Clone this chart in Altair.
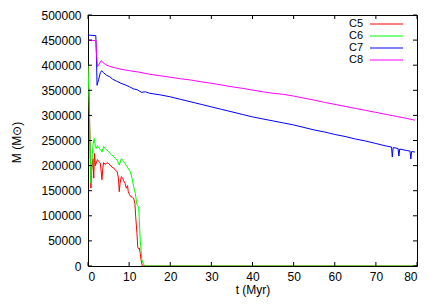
import altair as alt
import pandas as pd

series_names = ["C5", "C6", "C7", "C8"]
series_colors = ["#ff0000", "#00ff00", "#0000ff", "#ff00ff"]

t_c5 = [0, 0.3, 0.7, 0.9, 1.2, 1.4, 1.6, 1.8, 2.0, 2.3, 2.6, 3.0, 3.4, 3.6, 3.8, 4.2, 4.6, 5.0,
        5.4, 5.8, 6.3, 6.7, 7.1, 7.4, 7.6, 7.8, 8.1, 8.4, 8.6, 9.0, 9.3, 9.6, 9.8, 10.1, 10.4,
        10.8, 11.1, 11.4, 11.6, 11.9, 12.1, 12.3, 12.5, 12.7, 12.9, 13.2, 80]
m_c5 = [400000, 330000, 155000, 190000, 214000, 175000, 224000, 200000, 205000, 212000, 208000,
        205000, 172000, 195000, 206000, 202000, 206000, 204000, 201000, 197000, 195000, 190000,
        188000, 175000, 148000, 165000, 178000, 176000, 171000, 165000, 155000, 160000, 148000,
        142000, 138000, 137000, 135000, 125000, 98000, 65000, 38000, 34000, 36000, 25000, 12000, 0, 0]

t_c6 = [0, 0.3, 0.7, 1.0, 1.2, 1.5, 1.8, 2.0, 2.3, 2.6, 3.0, 3.4, 3.8, 4.2, 4.6, 5.0, 5.4, 5.8,
        6.3, 6.7, 7.1, 7.6, 8.1, 8.5, 9.0, 9.5, 10.0, 10.3, 10.7, 11.1, 11.5, 11.9, 12.3, 12.5,
        12.7, 13.1, 13.6, 14.0, 80]
m_c6 = [400000, 320000, 165000, 215000, 241000, 254000, 238000, 234000, 240000, 236000, 232000,
        227000, 238000, 234000, 231000, 228000, 224000, 221000, 218000, 214000, 211000, 201000,
        214000, 210000, 204000, 198000, 191000, 188000, 175000, 158000, 145000, 122000, 118000,
        90000, 52000, 12000, 2000, 0, 0]

t_c7 = [0, 1.9, 2.05, 2.2, 2.6, 3.0, 3.3, 3.8, 4.5, 5.3, 6.0, 7.0, 8.0, 9.0, 10.1, 11.0, 12.0,
        13.0, 14.0, 15.0, 17.5, 20, 22.5, 25, 27.5, 30, 32.5, 35, 37.5, 40, 42.5, 45, 47.5, 50,
        52.5, 55, 57.5, 60, 62.5, 65, 67.5, 70, 72.5, 73.8, 74.0, 74.2, 75.4, 75.6, 75.8, 77.5,
        78.3, 78.5, 78.7, 79.5]
m_c7 = [460000, 459000, 420000, 360000, 372000, 385000, 389000, 385000, 380000, 377000, 372000,
        368000, 364000, 361000, 357000, 353000, 351000, 346000, 347000, 344000, 341000, 337000,
        332000, 327000, 322000, 317000, 312000, 307000, 302000, 297000, 293000, 289000, 285000,
        281000, 276000, 271000, 267000, 262000, 258000, 253000, 249000, 244000, 239000, 237000,
        217000, 236000, 234000, 219000, 233000, 230000, 229000, 213000, 228000, 227000]

t_c8 = [0, 1.9, 2.1, 2.3, 2.7, 3.2, 3.7, 4.3, 5.2, 6.5, 8, 10.1, 12.5, 15, 17.5, 20, 22.5, 25,
        27.5, 30, 32.5, 35, 37.5, 40, 42.5, 45, 47.5, 50, 52.5, 55, 57.5, 60, 62.5, 65, 67.5, 70,
        72.5, 75, 77.5, 79.5]
m_c8 = [450000, 449000, 420000, 397000, 402000, 409000, 405000, 401000, 398000, 395000, 392000,
        389000, 386000, 382000, 379000, 376000, 373000, 370500, 367000, 364000, 360500, 357000,
        354000, 350500, 347000, 344000, 342000, 338500, 334500, 330500, 326000, 322000, 318000,
        314000, 310000, 306000, 302000, 298000, 294000, 290500]

x_ticks = [0, 10, 20, 30, 40, 50, 60, 70, 80]
y_ticks = [0, 50000, 100000, 150000, 200000, 250000, 300000, 350000, 400000, 450000, 500000]

FONT = "Liberation Sans"
W, H = 329, 251
TL = 4  # inward tick length

rows = []
for name, ts, ms in zip(series_names, [t_c5, t_c6, t_c7, t_c8], [m_c5, m_c6, m_c7, m_c8]):
    for t, m in zip(ts, ms):
        rows.append({"series": name, "t": t, "M": m})
df = pd.DataFrame(rows)

xs = alt.Scale(domain=[0, 80], nice=False, zero=False)
ys = alt.Scale(domain=[0, 500000], nice=False)
cs = alt.Scale(domain=series_names, range=series_colors)

x_axis = alt.Axis(values=x_ticks, format="d", title="t (Myr)", ticks=False, domain=False,
                  grid=False, labelPadding=5, titlePadding=2)
y_axis = alt.Axis(values=y_ticks, format="d", title="M (M⊙)", ticks=False, domain=False,
                  grid=False, labelPadding=7, titleX=-65, titleY=127)

lines = alt.Chart(df).mark_line(strokeWidth=1, clip=True).encode(
    x=alt.X("t:Q", scale=xs, axis=x_axis),
    y=alt.Y("M:Q", scale=ys, axis=y_axis),
    color=alt.Color("series:N", scale=cs, legend=None),
)

xt = pd.DataFrame({"t": x_ticks})
yt = pd.DataFrame({"M": y_ticks})

tick_bottom = alt.Chart(xt).mark_rule(color="black", strokeWidth=1).encode(
    x=alt.X("t:Q", scale=xs, axis=x_axis), y=alt.value(H), y2=alt.value(H - TL))
tick_top = alt.Chart(xt).mark_rule(color="black", strokeWidth=1).encode(
    x=alt.X("t:Q", scale=xs, axis=x_axis), y=alt.value(0), y2=alt.value(TL))
tick_left = alt.Chart(yt).mark_rule(color="black", strokeWidth=1).encode(
    y=alt.Y("M:Q", scale=ys, axis=y_axis), x=alt.value(0), x2=alt.value(TL))
tick_right = alt.Chart(yt).mark_rule(color="black", strokeWidth=1).encode(
    y=alt.Y("M:Q", scale=ys, axis=y_axis), x=alt.value(W), x2=alt.value(W - TL))

main = alt.layer(lines, tick_bottom, tick_top, tick_left, tick_right)

leg_df = pd.DataFrame({"series": series_names})
ly = alt.Scale(type="point", domain=series_names, range=[9, 45], padding=0)
leg_text = alt.Chart(leg_df).mark_text(align="right", baseline="middle", fontSize=11,
                                       font=FONT, color="black").encode(
    y=alt.Y("series:N", scale=ly, axis=None), x=alt.value(275), text="series:N")
leg_line = alt.Chart(leg_df).mark_rule(strokeWidth=1).encode(
    y=alt.Y("series:N", scale=ly, axis=None), x=alt.value(282), x2=alt.value(315),
    color=alt.Color("series:N", scale=cs, legend=None))
legend = alt.layer(leg_text, leg_line)

chart = alt.layer(main, legend).resolve_scale(
    y="independent"
).properties(
    width=W, height=H,
    autosize=alt.AutoSizeParams(type="none"),
    padding={"left": 80, "top": 7, "right": 11, "bottom": 31},
    background="white",
).configure_view(stroke="black", strokeWidth=1).configure_axis(
    labelFont=FONT, labelFontSize=12, labelColor="black",
    titleFont=FONT, titleFontSize=12, titleFontWeight="normal", titleColor="black",
)

chart.save("out.html", embed_options={"renderer": "svg", "actions": False})
